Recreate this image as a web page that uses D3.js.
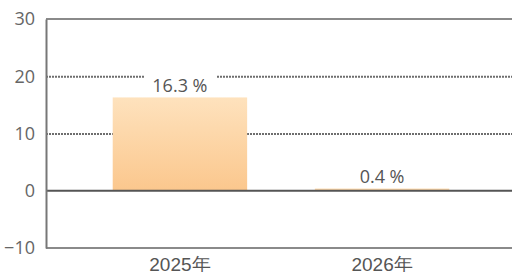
<!DOCTYPE html>
<html>
<head>
<meta charset="utf-8">
<script src="https://cdn.jsdelivr.net/npm/d3@7"></script>
<style>
  body { margin: 0; background: #fff; }
  svg { display: block; font-family: "Open Sans", "Noto Sans CJK SC", sans-serif; }
</style>
</head>
<body>
<svg id="chart" width="512" height="272"></svg>
<script>
// data
var categories = ["2025年", "2026年"];
var values = [16.3, 0.4];
var valueLabels = ["16.3 %", "0.4 %"];
var yTicks = [-10, 0, 10, 20, 30];

var svg = d3.select("#chart");
var plotLeft = 46, plotRight = 516, plotTop = 19, plotBottom = 248;

var x = d3.scaleBand()
    .domain(categories)
    .range([plotLeft, plotRight])
    .paddingInner(0.335)
    .paddingOuter(0.33);

var y = d3.scaleLinear()
    .domain([-10, 30])
    .range([plotBottom, plotTop]);

// gradient for bars
var defs = svg.append("defs");
var grad = defs.append("linearGradient")
    .attr("id", "barGrad")
    .attr("x1", 0).attr("y1", 0).attr("x2", 0).attr("y2", 1);
grad.append("stop").attr("offset", "0%").attr("stop-color", "#fee2bd");
grad.append("stop").attr("offset", "100%").attr("stop-color", "#fbc78d");

// dotted grid lines (10, 20)
svg.selectAll("line.grid")
    .data([10, 20])
  .enter().append("line")
    .attr("class", "grid")
    .attr("x1", plotLeft).attr("x2", 512)
    .attr("y1", function(d) { return y(d) + 0.5 })
    .attr("y2", function(d) { return y(d) + 0.5 })
    .attr("stroke", "#6e6e6e")
    .attr("stroke-width", 2)
    .attr("stroke-dasharray", "2,1");

// top & bottom frame lines
svg.selectAll("line.frame")
    .data([30, -10])
  .enter().append("line")
    .attr("class", "frame")
    .attr("x1", plotLeft).attr("x2", 512)
    .attr("y1", function(d) { return y(d) })
    .attr("y2", function(d) { return y(d) })
    .attr("stroke", "#8a8a8a")
    .attr("stroke-width", 2);

// bars
svg.selectAll("rect.bar")
    .data(values)
  .enter().append("rect")
    .attr("class", "bar")
    .attr("x", function(d, i) { return x(categories[i]) })
    .attr("width", x.bandwidth())
    .attr("y", function(d) { return y(d) })
    .attr("height", function(d) { return y(0) - y(d) })
    .attr("fill", "url(#barGrad)");

// white gaps in grid lines around value labels
svg.selectAll("rect.lblbg")
    .data(values)
  .enter().append("rect")
    .attr("class", "lblbg")
    .attr("x", function(d, i) { return x(categories[i]) + x.bandwidth() / 2 - 35 })
    .attr("width", 72)
    .attr("y", function(d) { return y(d) - 24 })
    .attr("height", 22)
    .attr("fill", "#fff");

// zero line
svg.append("line")
    .attr("x1", plotLeft).attr("x2", 512)
    .attr("y1", y(0)).attr("y2", y(0))
    .attr("stroke", "#555")
    .attr("stroke-width", 2);

// value labels
svg.selectAll("text.val")
    .data(values)
  .enter().append("text")
    .attr("class", "val")
    .attr("x", function(d, i) { return x(categories[i]) + x.bandwidth() / 2 })
    .attr("y", function(d) { return y(d) - 5 })
    .attr("text-anchor", "middle")
    .attr("fill", "#555")
    .attr("font-size", 18)
    .text(function(d, i) { return valueLabels[i] });

// y axis
var yAxis = d3.axisLeft(y).tickValues(yTicks).tickSize(0).tickPadding(11);
var gy = svg.append("g")
    .attr("transform", "translate(" + plotLeft + ",0)")
    .call(yAxis);
gy.select(".domain").attr("stroke", "#777").attr("stroke-width", 2);
gy.selectAll("text")
    .attr("fill", "#666")
    .attr("font-size", 18)
    .attr("font-family", "Open Sans, sans-serif");

// x labels
var xAxis = d3.axisBottom(x).tickSize(0).tickPadding(10);
var gx = svg.append("g")
    .attr("transform", "translate(0," + plotBottom + ")")
    .call(xAxis);
gx.select(".domain").remove();
gx.selectAll("text")
    .attr("fill", "#555")
    .attr("font-size", 19);
</script>
</body>
</html>
